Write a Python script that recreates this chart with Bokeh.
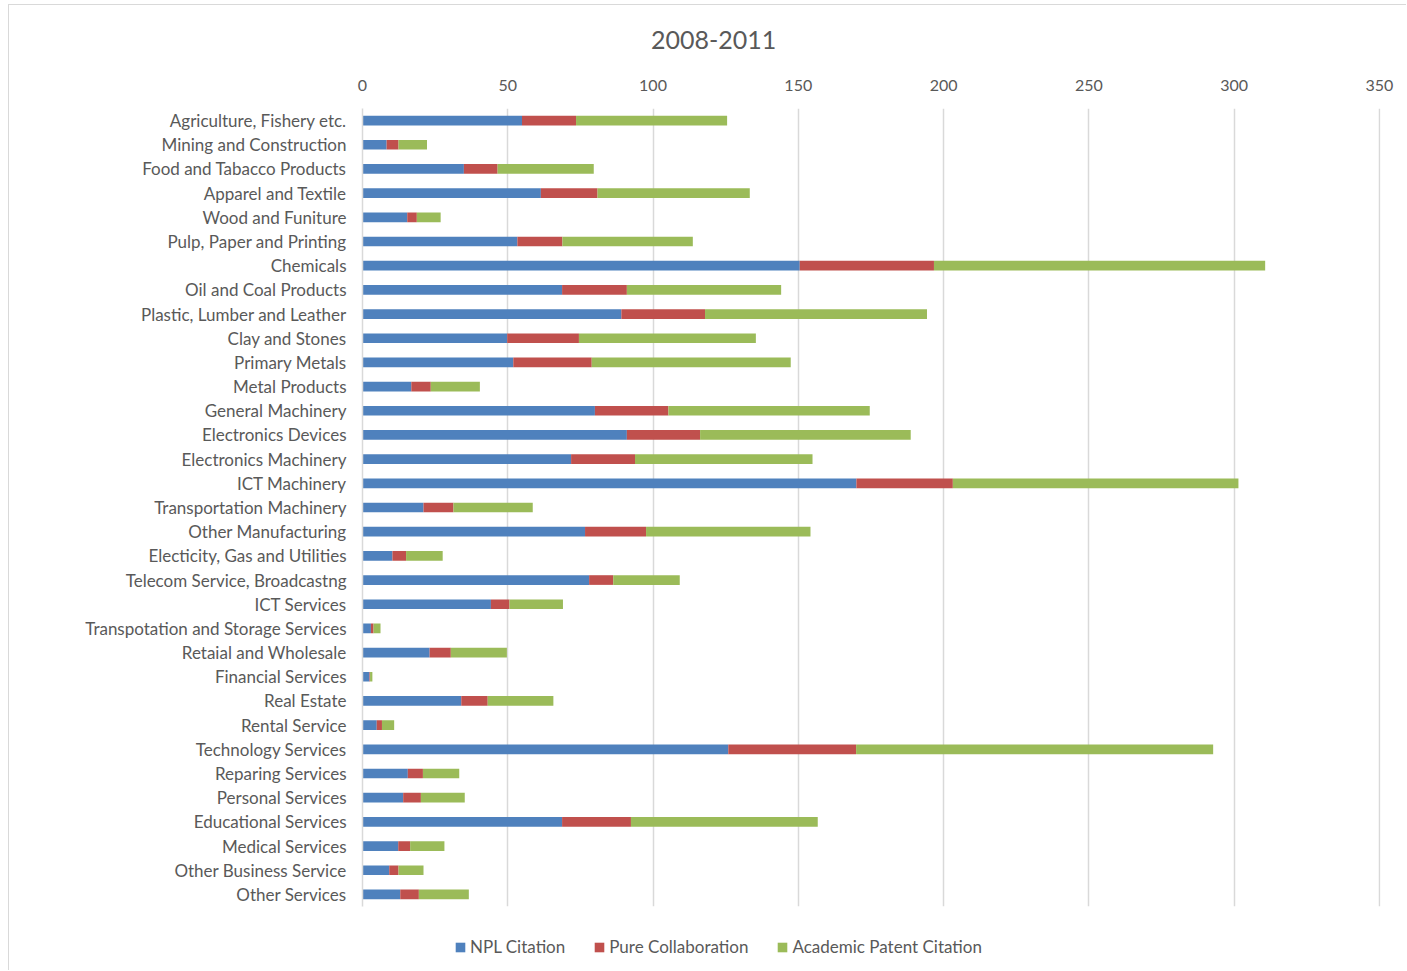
from bokeh.plotting import figure
from bokeh.layouts import column
from bokeh.models import (ColumnDataSource, FactorRange, Range1d, Legend, LegendItem,
                          Label, SingleIntervalTicker)
from bokeh.embed import file_html
from bokeh.resources import INLINE

categories = [
    "Agriculture, Fishery etc.", "Mining and Construction", "Food and Tabacco Products",
    "Apparel and Textile", "Wood and Funiture", "Pulp, Paper and Printing", "Chemicals",
    "Oil and Coal Products", "Plastic, Lumber and Leather", "Clay and Stones",
    "Primary Metals", "Metal Products", "General Machinery", "Electronics Devices",
    "Electronics Machinery", "ICT Machinery", "Transportation Machinery",
    "Other Manufacturing", "Electicity, Gas and Utilities", "Telecom Service, Broadcastng",
    "ICT Services", "Transpotation and Storage Services", "Retaial and Wholesale",
    "Financial Services", "Real Estate", "Rental Service", "Technology Services",
    "Reparing Services", "Personal Services", "Educational Services", "Medical Services",
    "Other Business Service", "Other Services",
]
npl_citation = [54.9, 8.3, 34.9, 61.4, 15.4, 53.3, 150.5, 68.7, 89.1, 49.8, 51.9, 16.8,
                80.0, 91.0, 71.8, 170.0, 21.0, 76.6, 10.3, 78.0, 44.2, 2.9, 23.1, 2.4,
                34.0, 4.9, 125.9, 15.6, 14.0, 68.7, 12.3, 9.2, 13.0]
pure_collaboration = [18.6, 4.1, 11.6, 19.5, 3.3, 15.5, 46.2, 22.3, 28.8, 24.7, 27.0, 6.7,
                      25.3, 25.2, 22.0, 33.2, 10.3, 21.0, 4.7, 8.3, 6.4, 0.9, 7.3, 0.2,
                      9.1, 1.8, 44.0, 5.2, 6.1, 23.7, 4.1, 3.2, 6.4]
academic_patent_citation = [52.0, 9.8, 33.1, 52.4, 8.2, 44.9, 114.0, 53.1, 76.4, 60.9, 68.5,
                            16.9, 69.3, 72.5, 61.1, 98.3, 27.3, 56.6, 12.6, 22.9, 18.4, 2.4,
                            19.3, 0.8, 22.6, 4.2, 122.9, 12.5, 15.1, 64.3, 11.8, 8.6, 17.2]
series_names = ["NPL Citation", "Pure Collaboration", "Academic Patent Citation"]
x_ticks_interval = 50
title_text = "2008-2011"

colors = ["#4F81BD", "#C0504D", "#9BBB59"]
TEXT = "#595959"
GRID = "#D9D9D9"
FONT = "Lato"
BORDER = "1px solid #d9d9d9"


def blank_figure(height):
    f = figure(width=1398, height=height, x_range=Range1d(0, 1), y_range=Range1d(0, 1),
               output_backend="svg", toolbar_location=None,
               x_axis_type=None, y_axis_type=None,
               min_border_left=0, min_border_right=0, min_border_top=0, min_border_bottom=0)
    f.outline_line_color = None
    f.xgrid.grid_line_color = None
    f.ygrid.grid_line_color = None
    return f


# ---- title strip ----
tf = blank_figure(60)
tf.margin = (4, 0, 0, 8)
tf.styles = {"border-top": BORDER, "border-left": BORDER}
tf.add_layout(Label(x=0.345, y=0.417, text=title_text, text_align="center",
                    text_baseline="middle", text_font=FONT, text_font_size="25px",
                    text_color=TEXT))

# ---- main chart ----
src = ColumnDataSource(dict(cat=categories, npl=npl_citation, pure=pure_collaboration,
                            acad=academic_patent_citation))

p = figure(width=1398, height=850,
           y_range=FactorRange(factors=categories[::-1], range_padding=0),
           x_range=Range1d(0, 350.4), x_axis_location="above",
           output_backend="svg", toolbar_location=None,
           min_border_left=353, min_border_right=27, min_border_top=44, min_border_bottom=8)
p.margin = (0, 0, 0, 8)
p.styles = {"border-left": BORDER}

rs = p.hbar_stack(["npl", "pure", "acad"], y="cat", height=0.4, color=colors,
                  line_color=None, source=src)

p.outline_line_color = None
p.background_fill_color = "white"
p.border_fill_color = "white"

ticker = SingleIntervalTicker(interval=x_ticks_interval)
p.xaxis.ticker = ticker
p.xgrid.ticker = ticker
p.xaxis.axis_line_color = None
p.xaxis.major_tick_line_color = None
p.xaxis.minor_tick_line_color = None
p.xaxis.major_label_text_font = FONT
p.xaxis.major_label_text_font_size = "16px"
p.xaxis.major_label_text_color = TEXT
p.xaxis.major_label_standoff = 12
p.xgrid.grid_line_color = GRID
p.xgrid.grid_line_width = 1.5
p.ygrid.grid_line_color = None

p.yaxis.axis_line_color = GRID
p.yaxis.axis_line_width = 1.5
p.yaxis.major_tick_line_color = None
p.yaxis.minor_tick_line_color = None
p.yaxis.major_label_text_font = FONT
p.yaxis.major_label_text_font_size = "17px"
p.yaxis.major_label_text_color = TEXT
p.yaxis.major_label_standoff = 10

# ---- legend strip ----
lg = blank_figure(56)
lg.margin = (0, 0, 0, 8)
lg.styles = {"border-left": BORDER}
dummies = [lg.hbar(y=[0], left=[0], right=[0], height=0.0, color=c, line_color=None)
           for c in colors]

legend = Legend(items=[LegendItem(label=n, renderers=[r]) for n, r in zip(series_names, dummies)],
                location=(92, 13), orientation="horizontal",
                border_line_color=None, background_fill_alpha=0, padding=0, margin=0,
                spacing=28, label_standoff=4, glyph_width=12, glyph_height=12,
                label_height=20, label_text_font=FONT, label_text_font_size="17px",
                label_text_color=TEXT)
lg.add_layout(legend)

layout = column(tf, p, lg, spacing=0)
open("out.html", "w").write(file_html(layout, INLINE))
